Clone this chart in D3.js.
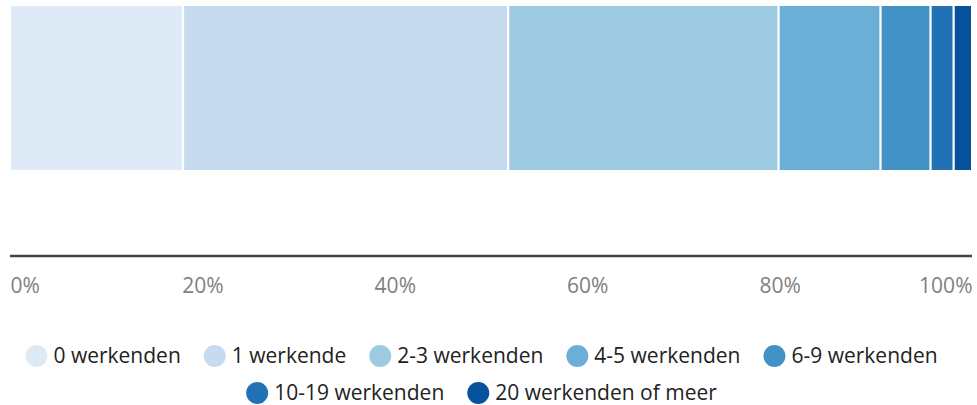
<!DOCTYPE html>
<html><head><meta charset="utf-8">
<script src="https://cdn.jsdelivr.net/npm/d3@7"></script>
<style>body{margin:0;background:#fff;} svg{display:block;}</style>
</head><body>
<script>
const categories = ["0 werkenden","1 werkende","2-3 werkenden","4-5 werkenden","6-9 werkenden","10-19 werkenden","20 werkenden of meer"];
const values = [18.0, 33.8, 28.1, 10.6, 5.2, 2.4, 1.9];
const colors = ["#deebf7","#c6dbef","#9ecae1","#6baed6","#4292c6","#2171b5","#08519c"];
const tickValues = [0,20,40,60,80,100];
const tickLabels = ["0%","20%","40%","60%","80%","100%"];

const W = 977, H = 405;
const svg = d3.select("body").append("svg").attr("width", W).attr("height", H);
const x = d3.scaleLinear().domain([0,100]).range([10, 972]);
const font = "'Open Sans', sans-serif";

let cum = 0;
const segs = values.map((v,i)=>{ const s={cat:categories[i], x0:cum, x1:cum+v, color:colors[i]}; cum+=v; return s; });
svg.selectAll("rect.seg").data(segs).join("rect")
  .attr("x", d=>x(d.x0)).attr("width", d=>x(d.x1)-x(d.x0))
  .attr("y", 5).attr("height", 166)
  .attr("fill", d=>d.color).attr("stroke","#fff").attr("stroke-width",2);

// axis
const axis = d3.axisBottom(x).tickValues(tickValues).tickSize(0).tickPadding(0)
  .tickFormat((d,i)=>tickLabels[i]);
const g = svg.append("g").attr("transform","translate(0,256)").call(axis);
g.select(".domain").attr("stroke","#444").attr("stroke-width",2.5).attr("d","M10,0H972");
g.selectAll("text").attr("font-family",font).attr("font-size",21).attr("fill","#808080")
  .attr("y",30).attr("dy","0.32em")
  .attr("text-anchor",(d,i)=> i===0 ? "start" : (i===tickValues.length-1 ? "end" : "middle"));

// legend
const rows = [[0,1,2,3,4],[5,6]];
const rowY = [356, 393];
const r = 11, itemGap = 23;
const lg = svg.append("g");
rows.forEach((row, ri)=>{
  const rg = lg.append("g");
  let cx = 0;
  row.forEach(idx=>{
    const it = rg.append("g").attr("transform",`translate(${cx},0)`);
    it.append("circle").attr("cx",r).attr("cy",0).attr("r",r).attr("fill",colors[idx]);
    const t = it.append("text").attr("x",r*2+6).attr("y",0).attr("dy","0.35em")
      .attr("font-family",font).attr("font-size",21).attr("fill","#222").text(categories[idx]);
    cx += r*2 + 6 + t.node().getComputedTextLength() + itemGap;
  });
  const total = cx - itemGap;
  rg.attr("transform",`translate(${(W - total)/2 - 7},${rowY[ri]})`);
});
</script>
</body></html>
